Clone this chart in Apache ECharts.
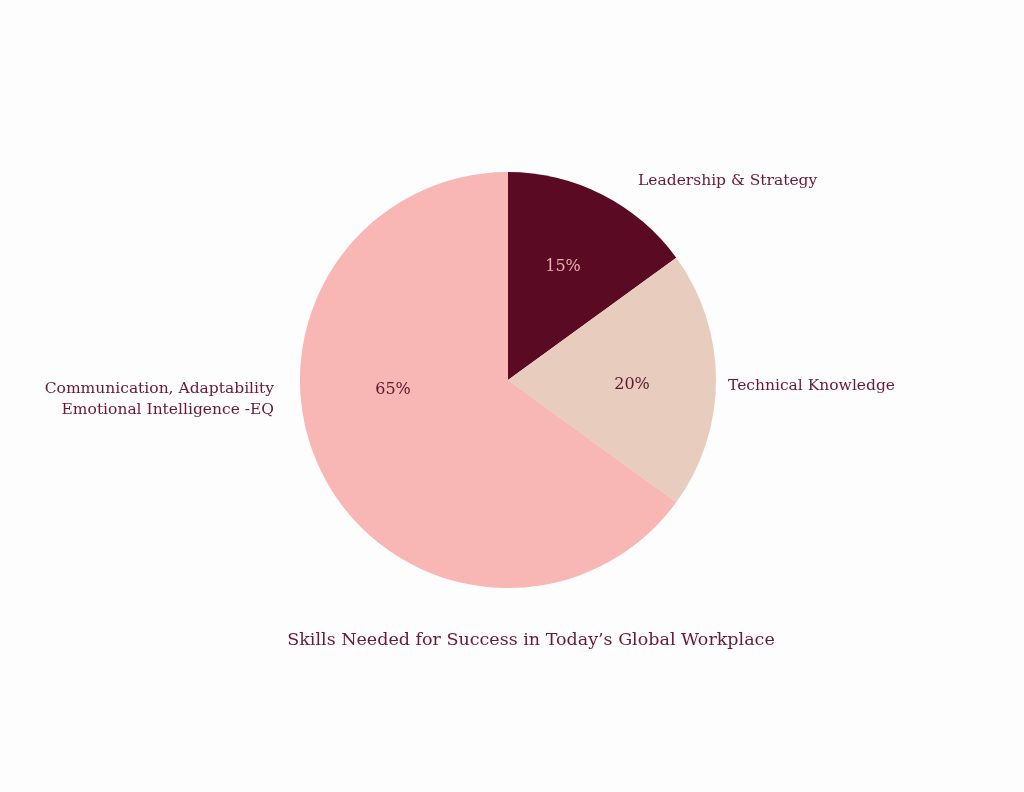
<!DOCTYPE html>
<html><head><meta charset="utf-8">
<script src="https://cdn.jsdelivr.net/npm/echarts@6/dist/echarts.min.js"></script>
<style>html,body{margin:0;background:#fdfdfd}#c{width:1024px;height:792px}</style>
</head><body><div id="c"></div>
<script>
const categories = ['Leadership & Strategy', 'Technical Knowledge', 'Communication, Adaptability\nEmotional Intelligence -EQ'];
const values = [15, 20, 65];
const colors = ['#5a0a22', '#e8cdbf', '#f8b6b5'];
const pctColors = ['#eab0b0', '#5a1a2a', '#5a1a2a'];
const title = 'Skills Needed for Success in Today\u2019s Global Workplace';
const font = 'DejaVu Serif';
const textColor = '#6a1731';
const nameSpots = [[638, 181, 'left'], [728, 386, 'left'], [274, 399, 'right']];
const pctSpots = [[563, 267], [632, 385], [393, 390]];
const chart = echarts.init(document.getElementById('c'));
const data = categories.map((n, i) => ({name: n, value: values[i], itemStyle: {color: colors[i]}}));
chart.setOption({
  backgroundColor: '#fdfdfd',
  animation: false,
  title: {text: title, left: 526, top: 626, textAlign: 'center',
    textStyle: {fontFamily: font, fontSize: 17.5, fontWeight: 'normal', color: textColor}},
  series: [
    {type: 'pie', center: [508, 380], radius: 208, startAngle: 90, clockwise: true,
     data: data.map((d, i) => Object.assign({}, d, {label: {color: pctColors[i]}})),
     label: {position: 'inside', formatter: '{c}%', fontFamily: font, fontSize: 16},
     labelLayout: p => ({x: pctSpots[p.dataIndex][0], y: pctSpots[p.dataIndex][1], align: 'center', verticalAlign: 'middle'}),
     emphasis: {disabled: true}},
    {type: 'pie', center: [508, 380], radius: 208, startAngle: 90, clockwise: true,
     data: categories.map((n, i) => ({name: n, value: values[i]})),
     itemStyle: {color: 'rgba(0,0,0,0)'}, silent: true, z: 3,
     label: {show: true, position: 'outside', formatter: '{b}', fontFamily: font, fontSize: 15.5, color: textColor, lineHeight: 21},
     labelLine: {show: false},
     labelLayout: p => ({x: nameSpots[p.dataIndex][0], y: nameSpots[p.dataIndex][1], align: nameSpots[p.dataIndex][2], verticalAlign: 'middle'})}
  ]
});
</script></body></html>
